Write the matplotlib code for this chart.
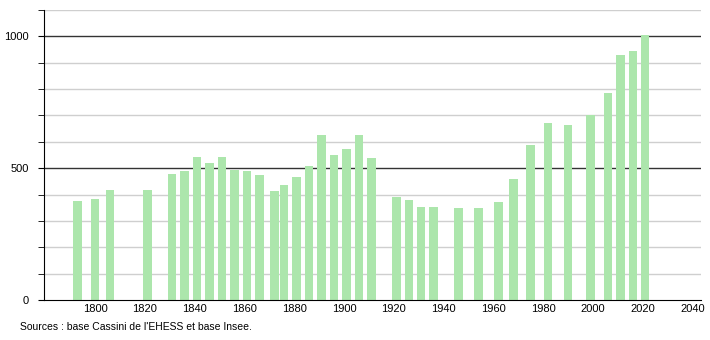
import matplotlib.pyplot as plt
from matplotlib.ticker import MultipleLocator

# census years and population
years = [1793, 1800, 1806, 1821, 1831, 1836, 1841, 1846, 1851, 1856,
         1861, 1866, 1872, 1876, 1881, 1886, 1891, 1896, 1901, 1906,
         1911, 1921, 1926, 1931, 1936, 1946, 1954, 1962, 1968, 1975,
         1982, 1990, 1999, 2006, 2011, 2016, 2021]
population = [376, 383, 418, 418, 478, 490, 544, 521, 544, 494,
              490, 475, 413, 438, 465, 507, 627, 551, 574, 627,
              540, 392, 380, 352, 352, 349, 349, 371, 459, 589,
              672, 665, 703, 786, 930, 945, 1004]
x_ticks = list(range(1800, 2041, 20))
source = "Sources : base Cassini de l'EHESS et base Insee."

plt.rcParams['font.family'] = ['Liberation Sans', 'DejaVu Sans']

fig = plt.figure(figsize=(7.1, 3.4), dpi=100)
ax = fig.add_axes([0.062, 0.1176, 0.925, 0.853])

# grid lines: light every 100, dark at 500 and 1000
for v in range(100, 1101, 100):
    if v % 500 == 0:
        ax.axhline(v, color='#333333', lw=1.0, zorder=1)
    else:
        ax.axhline(v, color='#cfcfcf', lw=1.0, zorder=1)

ax.bar(years, population, width=3.4, color='#ace6ac', zorder=2)

ax.set_xlim(1779.5, 2043.3)
ax.set_ylim(0, 1100)
ax.set_xticks(x_ticks)
ax.set_yticks([0, 500, 1000])
ax.yaxis.set_minor_locator(MultipleLocator(100))
ax.tick_params(axis='x', length=0, labelsize=8, pad=3)
ax.tick_params(axis='y', which='major', length=4, labelsize=8, pad=7)
ax.tick_params(axis='y', which='minor', length=4)

for s in ['top', 'right']:
    ax.spines[s].set_visible(False)
ax.spines['left'].set_color('black')
ax.spines['bottom'].set_color('black')

fig.text(0.028, 0.038, source, fontsize=7.5, ha='left', va='center')

fig.savefig('out.png', dpi=100)
